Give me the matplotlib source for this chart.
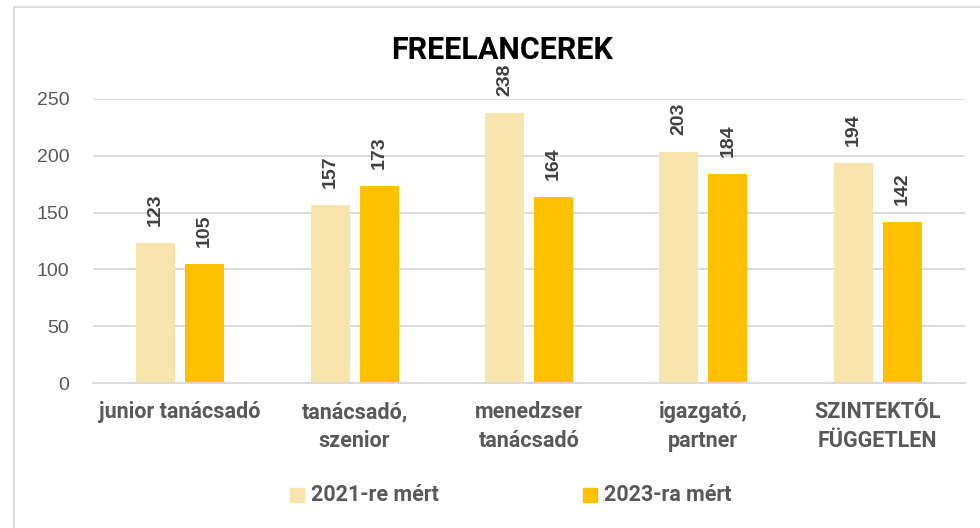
import numpy as np
import matplotlib.pyplot as plt
from matplotlib.patches import Rectangle
from matplotlib import font_manager

categories = ['junior tanácsadó', 'tanácsadó,\nszenior', 'menedzser\ntanácsadó',
              'igazgató,\npartner', 'SZINTEKTŐL\nFÜGGETLEN']
series_names = ['2021-re mért', '2023-ra mért']
values_2021 = [123, 157, 238, 203, 194]
values_2023 = [105, 173, 164, 184, 142]
yticks = [0, 50, 100, 150, 200, 250]

col_2021 = '#F8E5AE'
col_2023 = '#FFC000'
grid_col = '#D9D9D9'
text_col = '#595959'

names = {f.name for f in font_manager.fontManager.ttflist}
narrow = 'Liberation Sans Narrow' if 'Liberation Sans Narrow' in names else 'Roboto'

fig = plt.figure(figsize=(9.8, 5.28), dpi=100)
ax = fig.add_axes([93 / 980, 1 - 383 / 528, 872 / 980, 284 / 528])

x = np.arange(len(categories))
w = 0.224
gap = 0.057
b1 = ax.bar(x - (w + gap) / 2, values_2021, w, color=col_2021, zorder=2)
b2 = ax.bar(x + (w + gap) / 2, values_2023, w, color=col_2023, zorder=2)

for bars in (b1, b2):
    for r in bars:
        ax.annotate(f'{int(r.get_height())}', (r.get_x() + r.get_width() / 2, r.get_height()),
                    xytext=(0, 17), textcoords='offset pixels', rotation=90,
                    ha='center', va='bottom', fontsize=14, fontweight='bold',
                    color='#404040', family='Liberation Sans')

ax.set_xlim(-0.5, len(categories) - 0.5)
ax.set_ylim(0, 250)
ax.set_yticks(yticks)
ax.set_yticklabels([str(t) for t in yticks], fontsize=14, color=text_col, family='Liberation Sans')
ax.yaxis.grid(True, color=grid_col, lw=1.3, zorder=0)
ax.tick_params(axis='y', length=0, pad=17)
ax.tick_params(axis='x', length=0, pad=13)
ax.set_xticks(x)
ax.set_xticklabels(categories, fontsize=15.5, fontweight='bold', color=text_col,
                   family=narrow, linespacing=1.42, va='top')
for s in ['top', 'right', 'left']:
    ax.spines[s].set_visible(False)
ax.spines['bottom'].set_color(grid_col)
ax.spines['bottom'].set_linewidth(1.3)

fig.text(502 / 980, 1 - 50 / 528, 'FREELANCEREK', ha='center', va='center',
         fontsize=22, fontweight='bold', color='black', family=narrow)

# legend
for (name, col, sx) in [(series_names[0], col_2021, 290), (series_names[1], col_2023, 583)]:
    fig.patches.append(Rectangle((sx / 980, 1 - 502 / 528), 14 / 980, 14 / 528,
                                 transform=fig.transFigure, color=col, figure=fig))
    fig.text((sx + 21) / 980, 1 - 495 / 528, name, ha='left', va='center',
             fontsize=15.5, fontweight='bold', color=text_col, family=narrow)

# outer frame lines
fig.add_artist(plt.Line2D([14 / 980, 14 / 980], [0, 1 - 7 / 528], color=grid_col,
                          lw=1.3, transform=fig.transFigure))
fig.add_artist(plt.Line2D([14 / 980, 1], [1 - 7 / 528, 1 - 7 / 528], color=grid_col,
                          lw=1.3, transform=fig.transFigure))

fig.savefig('out.png', dpi=100)
